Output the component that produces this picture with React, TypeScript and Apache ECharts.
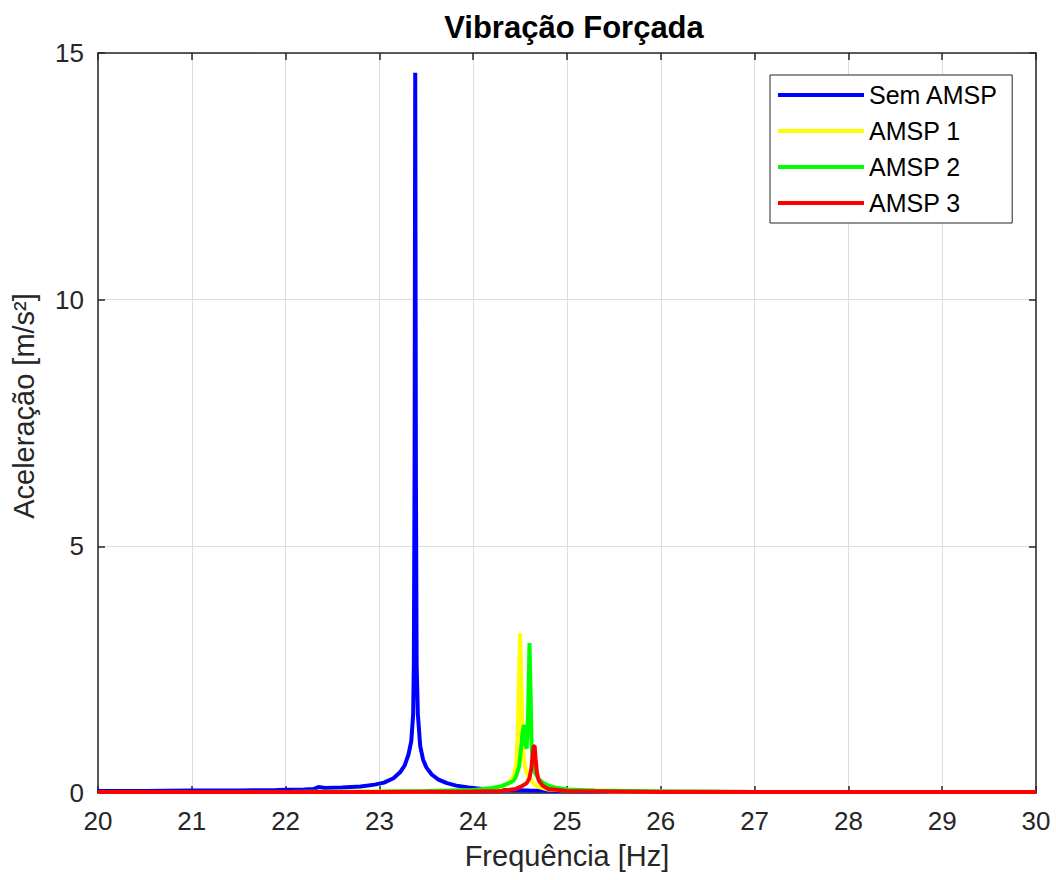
import React, { useEffect, useRef } from "react";
import * as echarts from "echarts";

const seriesNames = ["Sem AMSP", "AMSP 1", "AMSP 2", "AMSP 3"];
const seriesColors = ["#0000ff", "#ffff00", "#00ff00", "#ff0000"];

const xTicks = [20, 21, 22, 23, 24, 25, 26, 27, 28, 29, 30];
const yTicks = [0, 5, 10, 15];

const freqBlue = [20, 20.5, 21, 21.5, 21.9, 22.2, 22.3, 22.35, 22.42, 22.6, 22.8, 22.95, 23.05, 23.15, 23.22, 23.27, 23.31, 23.34, 23.36, 23.367, 23.375, 23.382, 23.389, 23.397, 23.41, 23.435, 23.465, 23.5, 23.56, 23.63, 23.72, 23.82, 23.95, 24.1, 24.3, 24.6, 25, 25.5, 26, 27, 28, 29, 30];
const accBlue = [0.04, 0.04, 0.05, 0.05, 0.06, 0.07, 0.08, 0.12, 0.10, 0.11, 0.13, 0.17, 0.21, 0.30, 0.42, 0.56, 0.78, 1.05, 1.6, 2.6, 6.5, 14.6, 6.5, 2.6, 1.6, 0.95, 0.68, 0.52, 0.37, 0.27, 0.2, 0.15, 0.11, 0.08, 0.06, 0.05, 0.04, 0.03, 0.03, 0.02, 0.02, 0.02, 0.02];

const freqAmsp1 = [20, 22, 23, 23.5, 24, 24.2, 24.3, 24.38, 24.43, 24.46, 24.475, 24.488, 24.5, 24.512, 24.522, 24.54, 24.56, 24.6, 24.65, 24.7, 24.8, 25, 25.5, 26, 27, 28, 30];
const accAmsp1 = [0.02, 0.02, 0.03, 0.03, 0.05, 0.08, 0.12, 0.2, 0.35, 0.6, 1.2, 2.3, 3.24, 2.4, 1.3, 0.7, 0.45, 0.3, 0.18, 0.12, 0.07, 0.05, 0.03, 0.03, 0.02, 0.02, 0.02];

const freqAmsp2 = [20, 22, 23, 23.5, 24, 24.2, 24.3, 24.38, 24.43, 24.46, 24.49, 24.51, 24.525, 24.54, 24.555, 24.57, 24.585, 24.6, 24.612, 24.622, 24.635, 24.66, 24.7, 24.75, 24.8, 24.9, 25, 25.3, 26, 27, 28, 30];
const accAmsp2 = [0.02, 0.02, 0.03, 0.04, 0.06, 0.1, 0.14, 0.2, 0.25, 0.35, 0.55, 0.9, 1.2, 1.38, 1.0, 0.9, 1.6, 3.04, 2.0, 1.0, 0.6, 0.4, 0.28, 0.2, 0.15, 0.1, 0.07, 0.05, 0.03, 0.02, 0.02, 0.02];

const freqAmsp3 = [20, 22, 23, 24, 24.3, 24.45, 24.52, 24.57, 24.6, 24.62, 24.636, 24.645, 24.655, 24.665, 24.68, 24.7, 24.74, 24.8, 25, 26, 28, 30];
const accAmsp3 = [0.02, 0.02, 0.02, 0.03, 0.04, 0.08, 0.14, 0.2, 0.3, 0.5, 0.8, 0.95, 0.95, 0.7, 0.4, 0.25, 0.15, 0.08, 0.04, 0.02, 0.02, 0.02];

const seriesFreqs = [freqBlue, freqAmsp1, freqAmsp2, freqAmsp3];
const seriesAccs = [accBlue, accAmsp1, accAmsp2, accAmsp3];

const FONT = "'Liberation Sans', Arial, Helvetica, sans-serif";
const AXIS_COLOR = "#262626";

export default function App() {
  const ref = useRef<HTMLDivElement>(null);

  useEffect(() => {
    if (!ref.current) return;
    const chart = echarts.init(ref.current, undefined, { renderer: "svg" });

    const series = seriesNames.map((name, i) => ({
      name,
      type: "line",
      xAxisIndex: 0,
      yAxisIndex: 0,
      showSymbol: false,
      symbol: "none",
      lineStyle: { color: seriesColors[i], width: 4 },
      itemStyle: { color: seriesColors[i] },
      data: seriesFreqs[i].map((f, j) => [f, seriesAccs[i][j]]),
      z: 2 + i,
    }));

    const xMin = xTicks[0];
    const xMax = xTicks[xTicks.length - 1];
    const yMin = yTicks[0];
    const yMax = yTicks[yTicks.length - 1];

    chart.setOption({
      animation: false,
      backgroundColor: "#ffffff",
      textStyle: { fontFamily: FONT },
      title: {
        text: "Vibração Forçada",
        left: 569,
        top: 7,
        textAlign: "center",
        textStyle: { fontFamily: FONT, fontSize: 31, fontWeight: "bold", color: "#000000" },
      },
      grid: { left: 98, right: 20, top: 53, bottom: 87, containLabel: false, outerBoundsMode: "none" },
      legend: {
        data: seriesNames,
        orient: "vertical",
        left: 770,
        top: 75,
        padding: [7, 14, 7, 8],
        itemGap: 10,
        itemWidth: 86,
        itemHeight: 4,
        icon: "rect",
        backgroundColor: "#ffffff",
        borderColor: AXIS_COLOR,
        borderWidth: 1,
        borderRadius: 0,
        textStyle: { fontFamily: FONT, fontSize: 25, color: "#000000", lineHeight: 26 },
      },
      xAxis: [
        {
          type: "value",
          min: xMin,
          max: xMax,
          interval: 1,
          position: "bottom",
          name: "Frequência [Hz]",
          nameLocation: "middle",
          nameGap: 48,
          nameTextStyle: { fontFamily: FONT, fontSize: 29, color: AXIS_COLOR },
          axisLine: { show: true, onZero: false, lineStyle: { color: AXIS_COLOR, width: 1.5 } },
          axisTick: { show: true, inside: true, length: 7, lineStyle: { color: AXIS_COLOR, width: 1.5 } },
          axisLabel: { fontFamily: FONT, fontSize: 26, color: AXIS_COLOR, margin: 15 },
          splitLine: { show: true, lineStyle: { color: "#dedede", width: 1 } },
        },
        {
          type: "value",
          min: xMin,
          max: xMax,
          interval: 1,
          position: "top",
          axisLine: { show: true, onZero: false, lineStyle: { color: AXIS_COLOR, width: 1.5 } },
          axisTick: { show: true, inside: true, length: 7, lineStyle: { color: AXIS_COLOR, width: 1.5 } },
          axisLabel: { show: false },
          splitLine: { show: false },
        },
      ],
      yAxis: [
        {
          type: "value",
          min: yMin,
          max: yMax,
          interval: 5,
          position: "left",
          name: "Aceleração [m/s²]",
          nameLocation: "middle",
          nameGap: 60,
          nameTextStyle: { fontFamily: FONT, fontSize: 29, color: AXIS_COLOR, padding: [0, 0, 0, 34] },
          axisLine: { show: true, onZero: false, lineStyle: { color: AXIS_COLOR, width: 1.5 } },
          axisTick: { show: true, inside: true, length: 7, lineStyle: { color: AXIS_COLOR, width: 1.5 } },
          axisLabel: { fontFamily: FONT, fontSize: 26, color: AXIS_COLOR, margin: 14 },
          splitLine: { show: true, lineStyle: { color: "#dedede", width: 1 } },
        },
        {
          type: "value",
          min: yMin,
          max: yMax,
          interval: 5,
          position: "right",
          axisLine: { show: true, onZero: false, lineStyle: { color: AXIS_COLOR, width: 1.5 } },
          axisTick: { show: true, inside: true, length: 7, lineStyle: { color: AXIS_COLOR, width: 1.5 } },
          axisLabel: { show: false },
          splitLine: { show: false },
        },
      ],
      series,
    });

    return () => {
      chart.dispose();
    };
  }, []);

  return (
    <div
      ref={ref}
      style={{ position: "absolute", left: 0, top: 0, width: 1056, height: 880 }}
    />
  );
}
